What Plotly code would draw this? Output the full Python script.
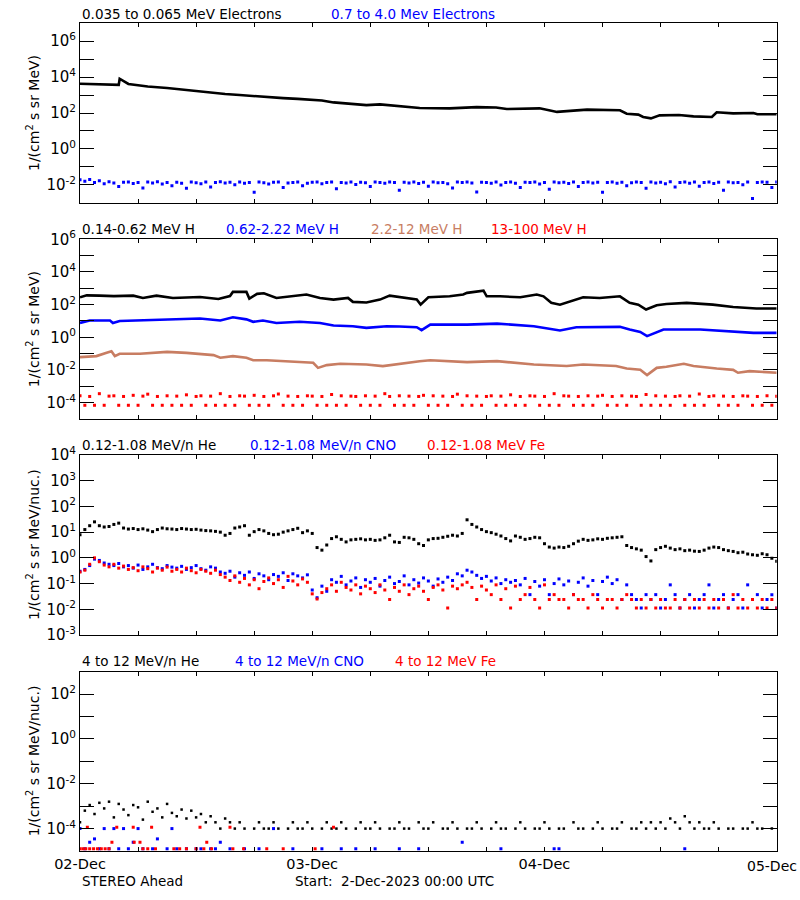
import numpy as np
import plotly.graph_objects as go

# ---------------- DATA (log10 of flux) ----------------
# time grid for half-hourly samples, hours after 2-Dec-2023 00:00 UTC
T_HALF = np.arange(145) * 0.5

# Panel 1: 0.035-0.065 MeV electrons (knots: hours, log10 flux)
e_lo_t = [0, 1, 2, 3, 4.0, 4.1, 4.5, 5, 6, 7, 9, 10.5, 12, 13.5, 15, 16.5, 18, 19.5, 21, 22.5,
          24, 25, 26.2, 27.5, 29.6, 31, 33, 35.1, 38.2, 41, 43, 44.1, 47.5, 48.1, 49.3, 51, 52.4,
          55.8, 56.5, 57.7, 58.2, 59, 59.9, 61.9, 63.4, 65.3, 65.8, 67.5, 69.6, 70, 72]
e_lo_v = [3.63, 3.62, 3.61, 3.60, 3.57, 3.91, 3.80, 3.62, 3.55, 3.48, 3.39, 3.30, 3.20, 3.13, 3.06,
          3.00, 2.93, 2.88, 2.83, 2.79, 2.74, 2.70, 2.59, 2.53, 2.44, 2.48, 2.40, 2.28, 2.26, 2.33,
          2.31, 2.22, 2.26, 2.19, 2.06, 2.13, 2.19, 2.15, 1.96, 1.91, 1.78, 1.70, 1.87, 1.89, 1.81,
          1.78, 2.04, 1.98, 2.00, 1.93, 1.93]

# Panel 1: 0.7-4.0 MeV electrons (half-hourly)
e_hi_v = [-1.72, -1.80, -1.70, -1.88, -1.78, -1.95, -1.83, -1.90, -2.10, -1.86,
          -1.84, -1.93, -1.87, -2.18, -1.85, -1.90, -1.83, -1.96, -1.88, -2.05,
          -1.86, -1.91, -2.20, -1.84, -1.89, -1.94, -1.85, -2.12, -1.88, -1.83,
          -1.90, -1.86, -2.00, -1.84, -1.92, -1.88, -2.42, -1.85, -1.89, -1.96,
          -1.86, -1.84, -2.15, -1.90, -1.87, -1.85, -2.05, -1.92, -1.86, -1.84,
          -1.95, -1.88, -1.85, -2.22, -1.87, -1.90, -1.84, -1.98, -1.86, -1.89,
          -2.10, -1.85, -1.88, -1.92, -1.84, -1.87, -2.30, -1.86, -1.90, -1.85,
          -1.93, -1.86, -2.08, -1.84, -1.89, -1.87, -1.95, -2.18, -1.85, -1.88,
          -1.84, -1.90, -2.40, -1.86, -1.88, -1.92, -1.85, -2.02, -1.87, -1.84,
          -1.91, -2.15, -1.86, -1.88, -1.84, -1.96, -1.87, -2.25, -1.85, -1.89,
          -1.86, -1.93, -1.84, -2.10, -1.88, -1.85, -1.90, -1.86, -2.42, -1.87,
          -1.84, -1.92, -1.86, -2.05, -1.89, -1.85, -1.88, -2.20, -1.84, -1.90,
          -1.86, -1.95, -1.83, -2.12, -1.87, -1.85, -1.91, -1.84, -2.08, -1.88,
          -1.85, -1.93, -1.86, -2.30, -1.84, -1.89, -1.87, -2.00, -1.85, -2.76,
          -1.88, -1.84, -1.86, -2.15, -1.85]

# Panel 2: protons
h_lo_t = [0, 0.7, 2, 3.5, 5.5, 6.5, 7.9, 9.6, 12.4, 14.3, 15.5, 15.8, 17.2, 17.5, 18.3, 19, 20.3,
          22, 23.4, 24.8, 26.2, 27.7, 28.2, 29.6, 31, 32, 33.1, 34.8, 35.2, 36, 38.2, 39.6, 40, 41,
          41.7, 42.03, 43.4, 45.5, 47.2, 47.9, 48.7, 49.6, 51, 52, 53.7, 55.8, 56.8, 57.7, 58.5,
          59.6, 60.6, 62.7, 65.4, 67.5, 69.9, 72]
h_lo_v = [2.45, 2.57, 2.55, 2.52, 2.55, 2.41, 2.55, 2.41, 2.47, 2.35, 2.53, 2.78, 2.78, 2.37, 2.66,
          2.70, 2.41, 2.55, 2.62, 2.41, 2.31, 2.41, 2.17, 2.13, 2.31, 2.55, 2.45, 2.31, 2.00, 2.45,
          2.51, 2.62, 2.72, 2.78, 2.86, 2.51, 2.51, 2.45, 2.62, 2.51, 2.11, 2.00, 2.25, 2.45, 2.41,
          2.51, 2.11, 2.00, 1.70, 1.96, 2.04, 2.11, 2.00, 1.86, 1.76, 1.76]

h_mid_t = [0, 1.0, 3.1, 3.4, 4.1, 5.5, 9, 12.4, 14.5, 15.8, 17.2, 17.9, 18.9, 20.3, 22.7, 24.8,
           26.2, 28.2, 29.6, 31.7, 33, 34.8, 35.3, 36.2, 40, 43.1, 46.9, 48.9, 49.6, 51.3, 55.8,
           56.8, 57.9, 58.6, 59.6, 60.3, 64.1, 67.5, 69.6, 72]
h_mid_v = [0.88, 1.03, 1.03, 0.88, 1.00, 1.03, 1.09, 1.15, 1.03, 1.23, 1.10, 0.95, 1.03, 0.88, 0.95,
           0.88, 0.72, 0.68, 0.58, 0.68, 0.66, 0.62, 0.44, 0.78, 0.78, 0.84, 0.68, 0.48, 0.42, 0.62,
           0.64, 0.48, 0.33, 0.07, 0.33, 0.48, 0.48, 0.37, 0.27, 0.27]

h_m2_t = [0, 1.7, 2.75, 3.25, 3.6, 4.1, 6.2, 9, 11, 12.4, 13.8, 14.5, 15.8, 17.2, 17.9, 19.3, 21.4,
          24.1, 24.6, 25.5, 26.9, 28.2, 29.6, 31.3, 33.1, 35.1, 36.2, 40, 43.1, 46.9, 50.3, 52,
          55.4, 56.5, 57.9, 58.6, 59.6, 60.6, 62.4, 63.4, 65.8, 67.5, 68, 69.2, 72]
h_m2_v = [-1.21, -1.15, -0.95, -0.85, -1.15, -1.01, -1.01, -0.89, -0.95, -1.01, -1.09, -1.25, -1.15,
          -1.25, -1.40, -1.40, -1.46, -1.56, -1.87, -1.70, -1.62, -1.62, -1.66, -1.76, -1.60, -1.46,
          -1.40, -1.52, -1.46, -1.66, -1.76, -1.66, -1.76, -1.91, -1.99, -2.31, -1.87, -1.80, -1.62,
          -1.76, -1.91, -1.99, -2.17, -2.07, -2.17]

# 13-100 MeV H (half-hourly)
h_hi_v = [-3.58, -4.16, -3.62, -4.16, -3.45, -4.16, -3.60, -3.58, -4.16, -3.62,
          -4.16, -3.55, -4.16, -3.60, -3.48, -4.16, -3.62, -4.16, -3.58, -4.16,
          -3.60, -4.16, -3.52, -4.16, -3.62, -3.58, -4.16, -3.60, -4.16, -3.45,
          -4.16, -3.62, -4.16, -3.58, -3.60, -4.16, -3.55, -4.16, -3.62, -4.16,
          -3.58, -3.47, -4.16, -3.60, -4.16, -3.62, -4.16, -3.58, -3.60, -4.16,
          -3.62, -4.16, -3.50, -4.16, -3.58, -4.16, -3.60, -3.62, -4.16, -3.58,
          -4.16, -3.60, -4.16, -3.45, -3.62, -4.16, -3.58, -4.16, -3.60, -4.16,
          -3.62, -3.55, -4.16, -3.58, -4.16, -3.60, -4.16, -3.62, -3.48, -4.16,
          -3.58, -4.16, -3.60, -4.16, -3.62, -3.58, -4.16, -3.60, -4.16, -3.52,
          -4.16, -3.62, -4.16, -3.58, -3.60, -4.16, -3.62, -4.16, -3.45, -4.16,
          -3.58, -3.60, -4.16, -3.62, -4.16, -3.58, -4.16, -3.60, -3.55, -4.16,
          -3.62, -4.16, -3.58, -4.16, -3.60, -3.62, -4.16, -3.50, -4.16, -3.58,
          -4.16, -3.60, -4.16, -3.62, -3.58, -4.16, -3.60, -4.16, -3.47, -4.16,
          -3.62, -3.58, -4.16, -3.60, -4.16, -3.62, -4.16, -3.58, -3.60, -4.16,
          -3.62, -4.16, -3.58, -4.16, -3.60]

# Panel 3: 0.12-1.08 MeV/n ions (half-hourly)
he_lo_v = [0.90, 1.10, 1.25, 1.40, 1.25, 1.20, 1.22, 1.30, 1.35, 1.16,
           1.12, 1.14, 1.10, 1.13, 1.08, 1.02, 1.10, 1.16, 1.13, 1.12,
           1.10, 1.14, 1.12, 1.10, 1.11, 1.08, 1.06, 1.05, 1.03, 1.00,
           0.88, 0.95, 1.16, 1.20, 1.25, 0.88, 1.02, 1.10, 1.05, 0.95,
           0.90, 0.92, 1.00, 1.05, 1.10, 1.15, 0.98, 1.05, 0.95, 0.40,
           0.30, 0.50, 0.75, 0.82, 0.72, 0.62, 0.70, 0.72, 0.74, 0.70,
           0.72, 0.68, 0.70, 0.78, 0.88, 0.62, 0.60, 0.80, 0.78, 0.72,
           0.55, 0.48, 0.70, 0.75, 0.76, 0.80, 0.84, 0.88, 0.85, 0.95,
           1.48, 1.30, 1.20, 1.10, 1.02, 0.98, 0.92, 0.85, 0.75, 0.66,
           0.85, 0.80, 0.72, 0.75, 0.80, 0.78, 0.55, 0.42, 0.38, 0.42,
           0.40, 0.45, 0.55, 0.65, 0.72, 0.68, 0.70, 0.74, 0.72, 0.76,
           0.78, 0.80, 0.82, 0.48, 0.40, 0.35, 0.30, 0.05, -0.12, 0.32,
           0.40, 0.45, 0.38, 0.32, 0.35, 0.28, 0.30, 0.26, 0.25, 0.30,
           0.38, 0.42, 0.40, 0.32, 0.28, 0.25, 0.20, 0.22, 0.15, 0.12,
           0.10, 0.16, 0.12, -0.02, -0.13]

cno_lo_v = [-0.52, -0.45, -0.30, -0.05, -0.10, -0.20, -0.25, -0.30, -0.22, -0.35,
            -0.30, -0.40, -0.28, -0.45, -0.35, -0.25, -0.38, -0.42, -0.30, -0.36,
            -0.40, -0.33, -0.45, -0.38, -0.30, -0.42, -0.48, -0.35, -0.40, -0.55,
            -0.60, -0.52, -0.75, -0.58, -0.68, -0.55, -0.80, -0.62, -0.70, -0.85,
            -0.65, -0.72, -0.58, -0.88, -0.62, -0.70, -0.78, -0.66, -1.25, -1.55,
            -1.10, -1.30, -0.85, -0.95, -0.72, -1.05, -0.90, -0.78, -1.15, -0.85,
            -0.95, -0.80, -1.10, -0.88, -0.75, -1.00, -0.92, -0.70, -1.05, -0.85,
            -0.98, -0.78, -0.90, -1.10, -0.82, -0.95, -0.75, -0.88, -0.62, -0.70,
            -0.48, -0.55, -0.68, -0.80, -0.72, -0.90, -0.78, -1.00, -0.85, -0.95,
            -0.88, -1.05, -0.80, -1.43, -0.92, -1.10, -0.85, -1.43, -1.00, -0.82,
            -1.05, -0.90, -1.43, -0.95, -0.78, -1.10, -0.88, -1.43, -0.92, -0.75,
            -1.00, -0.85, -1.62, -1.05, -1.43, -1.62, -1.95, -1.43, -1.62, -1.43,
            -1.95, -1.62, -1.05, -1.43, -1.95, -1.62, -1.43, -1.95, -1.62, -1.43,
            -1.05, -1.95, -1.62, -1.43, -1.95, -1.62, -1.43, -1.95, -1.05, -1.62,
            -1.43, -1.95, -1.62, -1.43, -1.95]

fe_lo_v = [-0.55, -0.48, -0.25, 0.00, -0.15, -0.28, -0.35, -0.25, -0.40, -0.32,
           -0.45, -0.38, -0.50, -0.35, -0.42, -0.55, -0.40, -0.48, -0.36, -0.52,
           -0.45, -0.55, -0.40, -0.50, -0.58, -0.45, -0.52, -0.60, -0.48, -0.65,
           -0.75, -0.88, -0.70, -0.95, -0.80, -1.05, -0.85, -1.20, -0.92, -0.78,
           -1.00, -0.85, -1.15, -0.72, -0.90, -1.05, -0.82, -0.95, -1.40, -1.60,
           -1.35, -1.20, -1.05, -1.30, -0.95, -1.15, -1.25, -1.05, -1.40, -1.10,
           -1.20, -1.35, -1.05, -1.25, -1.62, -1.15, -1.30, -1.05, -1.43, -1.20,
           -1.10, -1.30, -1.62, -1.15, -1.05, -1.25, -1.95, -1.10, -1.20, -1.05,
           -0.95, -1.15, -1.62, -1.10, -1.25, -1.43, -1.05, -1.62, -1.20, -1.95,
           -1.10, -1.62, -1.43, -1.15, -1.62, -1.95, -1.05, -1.62, -1.43, -1.62,
           -1.62, -1.95, -1.43, -1.62, -1.62, -1.95, -1.43, -1.62, -1.95, -1.62,
           -1.62, -1.95, -1.62, -1.43, -1.62, -1.95, -1.62, -1.95, -1.62, -1.95,
           -1.62, -1.95, -1.95, -1.62, -1.95, -1.62, -1.95, -1.62, -1.95, -1.62,
           -1.95, -1.62, -1.95, -1.62, -1.95, -1.43, -1.95, -1.62, -1.95, -1.62,
           -1.95, -1.62, -1.95, -1.62, -1.95]

# Panel 4: 4-12 MeV/n ions
he_hi_v = [-3.72, -3.20, -2.95, -3.35, -2.85, -3.10, -2.80, -3.50, -2.90, -3.15,
           -3.40, -2.95, -3.05, -3.60, -2.80, -3.25, -3.10, -3.50, -2.90, -3.30,
           -3.45, -3.15, -3.55, -3.20, -3.50, -3.35, -3.72, -3.45, -3.72, -4.00,
           -3.55, -3.72, -4.00, -3.72, -4.00, None, -4.00, -3.72, -4.00, -4.00,
           -3.72, -4.00, None, -4.00, -3.72, -4.00, -4.00, -3.72, -4.00, None,
           -4.00, -3.72, -4.00, -4.00, -3.72, -4.00, None, -4.00, -3.72, -4.00,
           -4.00, -3.72, -4.00, None, -4.00, -4.00, -3.72, -4.00, -4.00, None,
           -3.72, -4.00, -4.00, -3.72, None, -4.00, -4.00, -3.72, -4.00, None,
           -4.00, -4.00, -3.72, -4.00, None, -4.00, -3.72, -4.00, -4.00, None,
           -4.00, -3.72, -4.00, None, -4.00, -4.00, -3.72, -4.00, None, -4.00,
           -4.00, None, -3.72, -4.00, -4.00, None, -4.00, -3.72, -4.00, None,
           -4.00, -4.00, -3.72, None, -4.00, -4.00, -3.72, -4.00, -3.72, -4.00,
           -3.72, -4.00, -3.55, -3.72, -4.00, -3.45, -3.72, -4.00, -3.72, -4.00,
           -4.00, -3.72, -4.00, None, -4.00, -4.00, None, -4.00, -4.00, -3.72,
           -4.00, -4.00, None, -4.00, None]

cno_hi_t = [0, 0.5, 1, 1.5, 2, 2.5, 3, 3.5, 4, 4.5, 5, 5.5, 6, 6.5, 7.5, 8, 9, 9.5, 10, 11,
            12, 12.5, 13.5, 14, 14.5, 15.5, 17, 18.5, 20, 22, 25, 27, 28.5, 30.5, 33, 35,
            39.5, 43.5, 49, 49.5, 62.5]
cno_hi_v = [-4.00, -4.90, -4.61, -4.46, -4.90, -4.00, -4.90, -4.00, -4.90, -4.00,
            -4.90, -4.61, -4.00, -4.90, -4.90, -4.46, -4.90, -4.00, -4.90, -4.90,
            -4.90, -4.90, -4.90, -4.90, -4.61, -4.90, -4.90, -4.90, -4.00, -4.90,
            -4.90, -4.90, -4.90, -4.90, -4.90, -4.90, -4.61, -4.90, -4.90, -4.90,
            -4.90]

fe_hi_t = [0, 0.3, 0.6, 0.76, 1.0, 1.4, 1.8, 2.2, 2.6, 3.0, 3.3, 3.8, 5.5, 5.6, 6.2, 6.5, 7.0,
           7.4, 7.8, 9.7, 10.3, 11.0, 12.0, 12.4, 12.8, 13.1, 13.6, 15.5, 15.8, 16.9, 19.3,
           21.0, 24.3, 26.2]
fe_hi_v = [-4.90, -4.90, -4.90, -3.94, -4.90, -4.90, -4.90, -4.90, -4.90, -4.90, -4.61, -3.94,
           -3.94, -4.61, -4.61, -4.90, -4.90, -3.94, -4.90, -4.90, -4.90, -4.90, -4.90, -3.94,
           -4.90, -4.61, -4.90, -3.94, -4.90, -4.90, -4.90, -4.90, -4.90, -3.94]

DAY_TICKS = [0, 24, 48, 72]
DAY_LABELS = ["02-Dec", "03-Dec", "04-Dec", "05-Dec"]
SIX_HOUR_TICKS = [6, 12, 18, 30, 36, 42, 54, 60, 66]

TITLES = [
    [("0.035 to 0.065 MeV Electrons", "black", 80), ("0.7 to 4.0 Mev Electrons", "#0000FF", 329)],
    [("0.14-0.62 MeV H", "black", 80), ("0.62-2.22 MeV H", "#0000FF", 224),
     ("2.2-12 MeV H", "#C87D62", 369), ("13-100 MeV H", "#FF0000", 489)],
    [("0.12-1.08 MeV/n He", "black", 80), ("0.12-1.08 MeV/n CNO", "#0000FF", 248),
     ("0.12-1.08 MeV Fe", "#FF0000", 425)],
    [("4 to 12 MeV/n He", "black", 80), ("4 to 12 MeV/n CNO", "#0000FF", 233),
     ("4 to 12 MeV Fe", "#FF0000", 393)],
]
YTITLES = ["1/(cm<sup>2</sup> s sr MeV)", "1/(cm<sup>2</sup> s sr MeV)",
           "1/(cm<sup>2</sup> s sr MeV/nuc.)", "1/(cm<sup>2</sup> s sr MeV/nuc.)"]

# ---------------- LAYOUT GEOMETRY ----------------
W, H = 800, 900
X0, X1 = 80, 776.7
PANELS = [(23.3, 202.7), (239.3, 419.0), (455.0, 635.0), (671.7, 851.0)]
YRANGES = [(-3, 7), (-5, 6), (-3, 4), (-5, 3)]
YTICKS = [(range(-2, 7), 2), (range(-4, 7), 2), (range(-3, 5), 1), (range(-4, 3), 2)]
TITLE_Y = [13.5, 229, 445, 661]

BLUE, RED, BROWN = "#0000FF", "#FF0000", "#C87D62"


def lin(vals):
    return [None if v is None else 10.0 ** v for v in vals]


def px(x):
    return x / W


def py(y):
    return 1 - y / H


fig = go.Figure()


def line(n, t, v, color):
    fig.add_trace(go.Scatter(x=t, y=lin(v), mode="lines", line=dict(color=color, width=2.6),
                             xaxis=f"x{n}", yaxis=f"y{n}", hoverinfo="skip"))


def dots(n, t, v, color, size=3):
    fig.add_trace(go.Scatter(x=t, y=lin(v), mode="markers",
                             marker=dict(color=color, size=size, symbol="square", line=dict(width=0)),
                             xaxis=f"x{n}", yaxis=f"y{n}", hoverinfo="skip"))


line(1, e_lo_t, e_lo_v, "black")
dots(1, T_HALF, e_hi_v, BLUE)

line(2, h_lo_t, h_lo_v, "black")
line(2, h_mid_t, h_mid_v, BLUE)
line(2, h_m2_t, h_m2_v, BROWN)
dots(2, T_HALF, h_hi_v, RED)

dots(3, T_HALF, he_lo_v, "black")
dots(3, T_HALF, cno_lo_v, BLUE)
dots(3, T_HALF, fe_lo_v, RED)

dots(4, T_HALF, he_hi_v, "black", 2.5)
dots(4, cno_hi_t, cno_hi_v, BLUE)
dots(4, fe_hi_t, fe_hi_v, RED)

layout = dict(width=W, height=H, margin=dict(l=0, r=0, t=0, b=0, autoexpand=False),
              paper_bgcolor="white", plot_bgcolor="white", showlegend=False,
              font=dict(family="DejaVu Sans", size=14, color="black"))

annotations = []
for i, (top, bot) in enumerate(PANELS):
    n = i + 1
    xs = "" if n == 1 else str(n)
    last = (n == 4)
    layout[f"xaxis{xs}"] = dict(
        domain=[px(X0), px(X1)], range=[0, 72], anchor=f"y{xs}", automargin=False,
        showline=True, linecolor="black", linewidth=1, mirror="ticks",
        ticks="inside", ticklen=4, tickcolor="black", tickwidth=1,
        tickvals=DAY_TICKS[:3], ticktext=DAY_LABELS[:3],
        minor=dict(tickvals=SIX_HOUR_TICKS, ticks="inside", ticklen=4, tickcolor="black",
                   tickwidth=1, showgrid=False),
        showticklabels=last, tickfont=dict(size=14.5), tickangle=0,
        showgrid=False, zeroline=False, fixedrange=True)
    exps, step = YTICKS[i]
    major = [k for k in exps if k % step == 0]
    minor = [k for k in exps if k % step != 0]
    ydict = dict(
        domain=[py(bot), py(top)], type="log", range=list(YRANGES[i]), anchor=f"x{xs}",
        automargin=False,
        showline=True, linecolor="black", linewidth=1, mirror="ticks",
        ticks="inside", ticklen=14, tickcolor="black", tickwidth=1,
        tickvals=[10.0 ** k for k in major], ticktext=[f"10<sup>{k}</sup>" for k in major],
        tickfont=dict(size=15),
        showgrid=False, zeroline=False, fixedrange=True)
    if minor:
        ydict["minor"] = dict(tickvals=[10.0 ** k for k in minor], ticks="inside", ticklen=14,
                              tickcolor="black", tickwidth=1, showgrid=False)
    layout[f"yaxis{xs}"] = ydict
    for text, color, xpos in TITLES[i]:
        annotations.append(dict(text=text, x=px(xpos), y=py(TITLE_Y[i]), xref="paper", yref="paper",
                                xanchor="left", yanchor="middle", showarrow=False,
                                font=dict(size=13.5, color=color)))
    annotations.append(dict(text=YTITLES[i], x=px(33), y=py((top + bot) / 2), xref="paper",
                            yref="paper", xanchor="center", yanchor="middle", textangle=-90,
                            showarrow=False, font=dict(size=14)))

# last day label sits at the right frame edge; keep it inside the page
annotations.append(dict(text=DAY_LABELS[3], x=px(799), y=py(866), xref="paper", yref="paper",
                        xanchor="right", yanchor="middle", showarrow=False,
                        font=dict(size=14)))
annotations.append(dict(text="STEREO Ahead", x=px(80), y=py(881), xref="paper", yref="paper",
                        xanchor="left", yanchor="middle", showarrow=False, font=dict(size=13.5)))
annotations.append(dict(text="Start:\u00a0\u00a02-Dec-2023 00:00 UTC", x=px(293), y=py(881),
                        xref="paper", yref="paper", xanchor="left", yanchor="middle",
                        showarrow=False, font=dict(size=13.5)))
layout["annotations"] = annotations
fig.update_layout(**layout)
fig.write_html("out.html", config={"displayModeBar": False},
               post_script="document.body.style.margin='0';document.body.style.padding='0';"
                           "document.body.style.overflow='hidden';")
